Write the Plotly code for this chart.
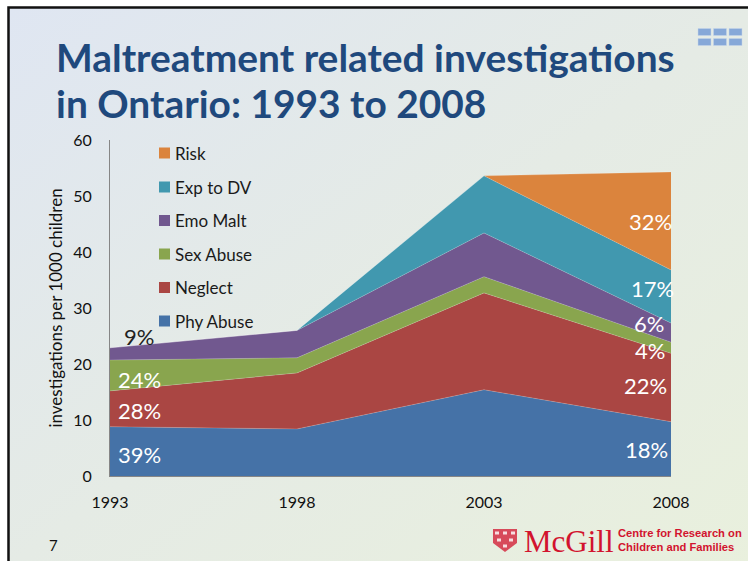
import base64
import plotly.graph_objects as go

years = ["1993", "1998", "2003", "2008"]
series_names = ["Phy Abuse", "Neglect", "Sex Abuse", "Emo Malt", "Exp to DV", "Risk"]
phy_abuse = [8.8, 8.4, 15.4, 9.7]
neglect = [6.4, 10.0, 17.3, 12.2]
sex_abuse = [5.5, 2.7, 2.9, 2.0]
emo_malt = [2.2, 4.9, 7.8, 3.4]
exp_to_dv = [0, 0, 10.2, 9.5]
risk = [0, 0, 0, 17.5]
series_values = [phy_abuse, neglect, sex_abuse, emo_malt, exp_to_dv, risk]
colors = ["#4572A7", "#AA4643", "#89A54E", "#71588F", "#4198AF", "#DB843D"]

labels_1993 = ["39%", "28%", "24%", "9%"]
labels_2008 = ["18%", "22%", "4%", "6%", "17%", "32%"]

FONT = "Lato"
L, R, T, B = 110, 671, 140, 476
W, H = 748, 561


def px(x):
    return (x - L) / (R - L)


def py(y):
    return (B - y) / (B - T)


svg = f'''<svg xmlns="http://www.w3.org/2000/svg" width="{W}" height="{H}">
<defs><linearGradient id="g" x1="0" y1="0" x2="1" y2="1">
<stop offset="0" stop-color="#DFE6F2"/><stop offset="0.5" stop-color="#E5EBE5"/><stop offset="1" stop-color="#E9F0DD"/>
</linearGradient></defs>
<rect width="{W}" height="{H}" fill="#FFFFFF"/>
<rect x="8.5" y="7.5" width="{W}" height="{H}" fill="url(#g)" stroke="#111111" stroke-width="2.5"/>
</svg>'''
bg = "data:image/svg+xml;base64," + base64.b64encode(svg.encode()).decode()

fig = go.Figure()
for name, vals, col in zip(series_names, series_values, colors):
    fig.add_trace(go.Scatter(
        x=years, y=vals, name=name, mode="lines", stackgroup="one",
        line=dict(width=0.4, color="rgba(255,255,255,0.45)"),
        fillcolor=col, showlegend=False,
    ))

annotations = []


def label(text, x, y, size=22, color="white", anchor="center", font=FONT, **kw):
    annotations.append(dict(
        text=text, xref="paper", yref="paper", x=px(x), y=py(y), showarrow=False,
        xanchor=anchor, yanchor="middle", font=dict(family=font, size=size, color=color),
        **kw,
    ))


# Data labels
for t, y, c in zip(labels_1993, [454, 410, 379, 336], ["white", "white", "white", "#222222"]):
    label(t, 139, y, color=c)
for t, x, y in zip(labels_2008, [646, 645, 650, 649, 652, 650], [449, 385, 350, 323, 288, 221]):
    label(t, x, y)

# Legend
shapes = []
legend_y = [321, 287.5, 254, 220.5, 187, 153]
for name, col, y in zip(series_names, colors, legend_y):
    shapes.append(dict(type="rect", xref="paper", yref="paper", x0=px(159), x1=px(170),
                       y0=py(y - 5.5), y1=py(y + 5.5), fillcolor=col, line_width=0))
    label(name, 172.5, y, size=17, color="#1A1A1A", anchor="left")

# Title
label("<b>Maltreatment related investigations</b>", 54, 57, size=38.9, color="#1F497D", anchor="left")
label("<b>in Ontario: 1993 to 2008</b>", 54, 103, size=38.9, color="#1F497D", anchor="left")

# Slide number and footer
label("7", 53, 545, size=15, color="#111111")
label("McGill", 522, 541, size=31, color="#D2132E", anchor="left", font="Liberation Serif")
label("<b>Centre for Research on</b>", 616, 533, size=11.2, color="#D2132E", anchor="left", font="Liberation Sans")
label("<b>Children and Families</b>", 616, 547, size=11.2, color="#D2132E", anchor="left", font="Liberation Sans")

# Crest
xs = [493, 517, 517, 505, 493]
ys = [529, 529, 543, 552, 543]
path = "M " + " L ".join(f"{px(a):.4f} {py(b):.4f}" for a, b in zip(xs, ys)) + " Z"
shapes.append(dict(type="path", xref="paper", yref="paper", path=path,
                   fillcolor="#D2132E", line_width=0, opacity=0.75))
for cx, cy in [(497, 533), (505, 533), (513, 533), (499, 540), (511, 540), (505, 546)]:
    shapes.append(dict(type="rect", xref="paper", yref="paper", x0=px(cx - 2), x1=px(cx + 2),
                       y0=py(cy - 1.5), y1=py(cy + 1.5), fillcolor="#F7DDE0", line_width=0))

# Slide navigation thumbnails
for y0 in [28.5, 38.5]:
    for x0 in [698, 713.5, 729]:
        shapes.append(dict(type="rect", xref="paper", yref="paper", x0=px(x0), x1=px(x0 + 13),
                           y0=py(y0), y1=py(y0 + 7), fillcolor="#86A8D8",
                           line=dict(color="#C5D4EA", width=0.5)))

fig.update_layout(
    width=W, height=H, autosize=False,
    margin=dict(l=L, r=W - R, t=T, b=H - B),
    paper_bgcolor="white", plot_bgcolor="rgba(0,0,0,0)",
    showlegend=False,
    font=dict(family=FONT, color="#111111", size=16),
    annotations=annotations, shapes=shapes,
    images=[dict(source=bg, xref="paper", yref="paper", x=px(0), y=py(0),
                 sizex=W / (R - L), sizey=H / (B - T), sizing="stretch",
                 xanchor="left", yanchor="top", layer="below")],
    xaxis=dict(type="category", range=[0, 3], showgrid=False, zeroline=False,
               showline=True, linecolor="#868686", linewidth=1,
               ticks="outside", ticklen=12, tickcolor="rgba(0,0,0,0)"),
    yaxis=dict(range=[0, 60], dtick=10, showgrid=False, zeroline=False,
               showline=True, linecolor="#868686", linewidth=1,
               ticks="outside", ticklen=14, tickcolor="rgba(0,0,0,0)",
               title=dict(text="investigations per 1000 children", standoff=6,
                          font=dict(size=17, family=FONT))),
)

fig.write_html("out.html", config=dict(displayModeBar=False),
               post_script="document.body.style.margin='0';document.documentElement.style.overflow='hidden';")
